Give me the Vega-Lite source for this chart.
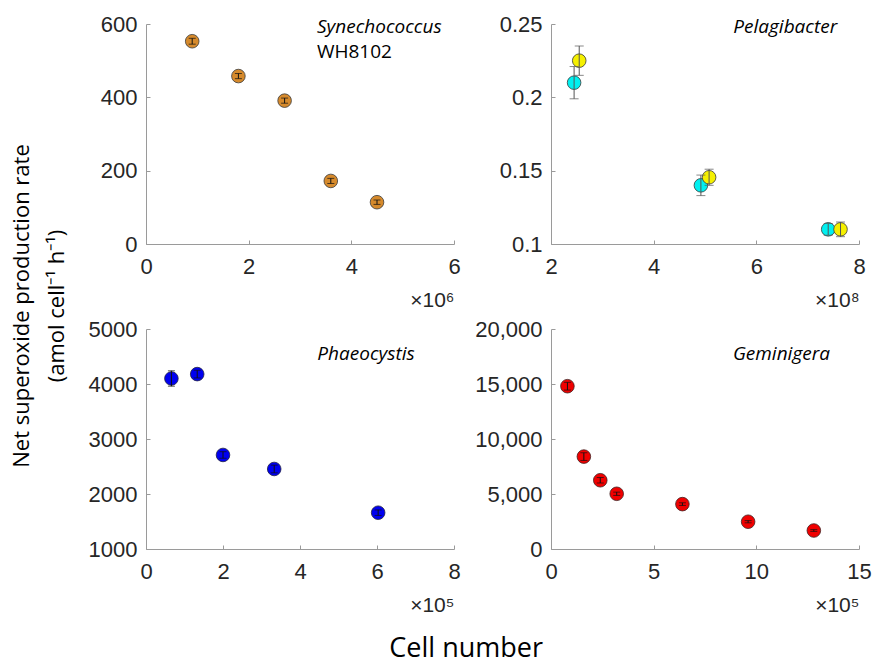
{
  "$schema": "https://vega.github.io/schema/vega-lite/v6.json",
  "background": "white",
  "padding": {"left": 11, "top": 13, "right": 5, "bottom": 5},
  "datasets": {
    "syn": [
      {"x": 0.9, "y": 553, "lo": 545, "hi": 561},
      {"x": 1.8, "y": 458, "lo": 451, "hi": 465},
      {"x": 2.7, "y": 391, "lo": 384, "hi": 398},
      {"x": 3.6, "y": 172, "lo": 165, "hi": 179},
      {"x": 4.5, "y": 114, "lo": 108, "hi": 120}
    ],
    "pel": [
      {"s": "a", "x": 2.45, "y": 0.210, "lo": 0.199, "hi": 0.221},
      {"s": "b", "x": 2.55, "y": 0.225, "lo": 0.215, "hi": 0.235},
      {"s": "a", "x": 4.92, "y": 0.140, "lo": 0.133, "hi": 0.147},
      {"s": "b", "x": 5.08, "y": 0.1455, "lo": 0.140, "hi": 0.151},
      {"s": "a", "x": 7.40, "y": 0.110, "lo": 0.106, "hi": 0.114},
      {"s": "b", "x": 7.64, "y": 0.110, "lo": 0.105, "hi": 0.115}
    ],
    "pha": [
      {"x": 0.66, "y": 4100, "lo": 3960, "hi": 4240},
      {"x": 1.33, "y": 4180, "lo": 4110, "hi": 4250},
      {"x": 2.0, "y": 2710, "lo": 2650, "hi": 2770},
      {"x": 3.33, "y": 2455, "lo": 2385, "hi": 2525},
      {"x": 6.03, "y": 1660, "lo": 1610, "hi": 1710}
    ],
    "gem": [
      {"x": 0.8, "y": 14800, "lo": 14450, "hi": 15150},
      {"x": 1.6, "y": 8400, "lo": 8050, "hi": 8750},
      {"x": 2.4, "y": 6250, "lo": 6000, "hi": 6500},
      {"x": 3.2, "y": 5020, "lo": 4870, "hi": 5170},
      {"x": 6.4, "y": 4080, "lo": 3960, "hi": 4200},
      {"x": 9.6, "y": 2480, "lo": 2380, "hi": 2580},
      {"x": 12.8, "y": 1680, "lo": 1600, "hi": 1760}
    ]
  },
  "title": {
    "text": "Cell number",
    "orient": "bottom",
    "anchor": "middle",
    "font": "Open Sans",
    "fontSize": 27,
    "fontWeight": "normal",
    "color": "#000000",
    "offset": 21,
    "dx": 25
  },
  "vconcat": [
    {
      "title": {
        "text": ["Net superoxide production rate", "(amol cell⁻¹ h⁻¹)"],
        "orient": "left",
        "anchor": "middle",
        "font": "Open Sans",
        "fontSize": 22,
        "fontWeight": "normal",
        "color": "#000000",
        "lineHeight": 35,
        "offset": 19,
        "dx": 8
      },
      "columns": 2,
      "spacing": {"row": 8, "column": 13},
      "concat": [
        {
          "width": 308,
          "height": 220,
          "data": {"name": "syn"},
          "layer": [
            {
              "mark": {"type": "circle", "size": 185, "fill": "#D68A2C", "stroke": "#3a3a3a", "strokeWidth": 0.8, "opacity": 1},
              "encoding": {
                "x": {"field": "x", "type": "quantitative", "scale": {"domain": [0, 6], "nice": false}, "axis": {"values": [0, 2, 4, 6], "title": "×10⁶"}},
                "y": {"field": "y", "type": "quantitative", "scale": {"domain": [0, 600], "nice": false}, "axis": {"values": [0, 200, 400, 600], "title": null}}
              }
            },
            {
              "mark": {"type": "errorbar", "color": "#111111", "ticks": {"size": 7}},
              "encoding": {
                "x": {"field": "x", "type": "quantitative"},
                "y": {"field": "lo", "type": "quantitative"},
                "y2": {"field": "hi"}
              }
            },
            {
              "data": {"values": [{"t": "Synechococcus"}]},
              "mark": {"type": "text", "font": "Open Sans", "fontStyle": "italic", "fontSize": 19, "align": "left", "baseline": "middle", "color": "#000000"},
              "encoding": {"x": {"datum": 3.33}, "y": {"datum": 592}, "text": {"field": "t"}}
            },
            {
              "data": {"values": [{"t": "WH8102"}]},
              "mark": {"type": "text", "font": "Open Sans", "fontSize": 19, "align": "left", "baseline": "middle", "color": "#000000"},
              "encoding": {"x": {"datum": 3.33}, "y": {"datum": 524}, "text": {"field": "t"}}
            }
          ]
        },
        {
          "width": 308,
          "height": 220,
          "data": {"name": "pel"},
          "layer": [
            {
              "mark": {"type": "circle", "size": 185, "stroke": "#3a3a3a", "strokeWidth": 0.8, "opacity": 1},
              "encoding": {
                "x": {"field": "x", "type": "quantitative", "scale": {"domain": [2, 8], "nice": false}, "axis": {"values": [2, 4, 6, 8], "title": "×10⁸"}},
                "y": {"field": "y", "type": "quantitative", "scale": {"domain": [0.1, 0.25], "nice": false, "zero": false}, "axis": {"values": [0.1, 0.15, 0.2, 0.25], "format": "~g", "title": null}},
                "fill": {"field": "s", "type": "nominal", "scale": {"domain": ["a", "b"], "range": ["#00F0F0", "#F5F000"]}, "legend": null}
              }
            },
            {
              "mark": {"type": "errorbar", "color": "#555555", "ticks": {"size": 9}},
              "encoding": {
                "x": {"field": "x", "type": "quantitative"},
                "y": {"field": "lo", "type": "quantitative"},
                "y2": {"field": "hi"}
              }
            },
            {
              "data": {"values": [{"t": "Pelagibacter"}]},
              "mark": {"type": "text", "font": "Open Sans", "fontStyle": "italic", "fontSize": 19, "align": "left", "baseline": "middle", "color": "#000000"},
              "encoding": {"x": {"datum": 5.55}, "y": {"datum": 0.248}, "text": {"field": "t"}}
            }
          ]
        },
        {
          "width": 308,
          "height": 220,
          "data": {"name": "pha"},
          "layer": [
            {
              "mark": {"type": "circle", "size": 185, "fill": "#0000F0", "stroke": "#202040", "strokeWidth": 0.8, "opacity": 1},
              "encoding": {
                "x": {"field": "x", "type": "quantitative", "scale": {"domain": [0, 8], "nice": false}, "axis": {"values": [0, 2, 4, 6, 8], "title": "×10⁵"}},
                "y": {"field": "y", "type": "quantitative", "scale": {"domain": [1000, 5000], "nice": false, "zero": false}, "axis": {"values": [1000, 2000, 3000, 4000, 5000], "format": "d", "title": null}}
              }
            },
            {
              "mark": {"type": "errorbar", "color": "#111111", "ticks": {"size": 7}},
              "encoding": {
                "x": {"field": "x", "type": "quantitative"},
                "y": {"field": "lo", "type": "quantitative"},
                "y2": {"field": "hi"}
              }
            },
            {
              "data": {"values": [{"t": "Phaeocystis"}]},
              "mark": {"type": "text", "font": "Open Sans", "fontStyle": "italic", "fontSize": 19, "align": "left", "baseline": "middle", "color": "#000000"},
              "encoding": {"x": {"datum": 4.45}, "y": {"datum": 4547}, "text": {"field": "t"}}
            }
          ]
        },
        {
          "width": 308,
          "height": 220,
          "data": {"name": "gem"},
          "layer": [
            {
              "mark": {"type": "circle", "size": 185, "fill": "#F00000", "stroke": "#402020", "strokeWidth": 0.8, "opacity": 1},
              "encoding": {
                "x": {"field": "x", "type": "quantitative", "scale": {"domain": [0, 15], "nice": false}, "axis": {"values": [0, 5, 10, 15], "title": "×10⁵"}},
                "y": {"field": "y", "type": "quantitative", "scale": {"domain": [0, 20000], "nice": false}, "axis": {"values": [0, 5000, 10000, 15000, 20000], "format": ",d", "title": null}}
              }
            },
            {
              "mark": {"type": "errorbar", "color": "#111111", "ticks": {"size": 7}},
              "encoding": {
                "x": {"field": "x", "type": "quantitative"},
                "y": {"field": "lo", "type": "quantitative"},
                "y2": {"field": "hi"}
              }
            },
            {
              "data": {"values": [{"t": "Geminigera"}]},
              "mark": {"type": "text", "font": "Open Sans", "fontStyle": "italic", "fontSize": 19, "align": "left", "baseline": "middle", "color": "#000000"},
              "encoding": {"x": {"datum": 8.86}, "y": {"datum": 17735}, "text": {"field": "t"}}
            }
          ]
        }
      ]
    }
  ],
  "config": {
    "font": "Liberation Sans",
    "view": {"stroke": null},
    "axis": {
      "grid": false,
      "domainColor": "#9a9a9a",
      "domainWidth": 1,
      "tickColor": "#9a9a9a",
      "tickSize": -4,
      "labelFont": "Liberation Sans",
      "labelFontSize": 22,
      "labelColor": "#262626",
      "titleFont": "Liberation Sans",
      "titleFontSize": 21,
      "titleFontWeight": "normal",
      "titleColor": "#262626"
    },
    "axisX": {"labelPadding": 16, "titleAnchor": "end", "titleAlign": "right", "titlePadding": 12, "labelFlush": false},
    "axisY": {"labelPadding": 13, "labelFlush": false}
  }
}
